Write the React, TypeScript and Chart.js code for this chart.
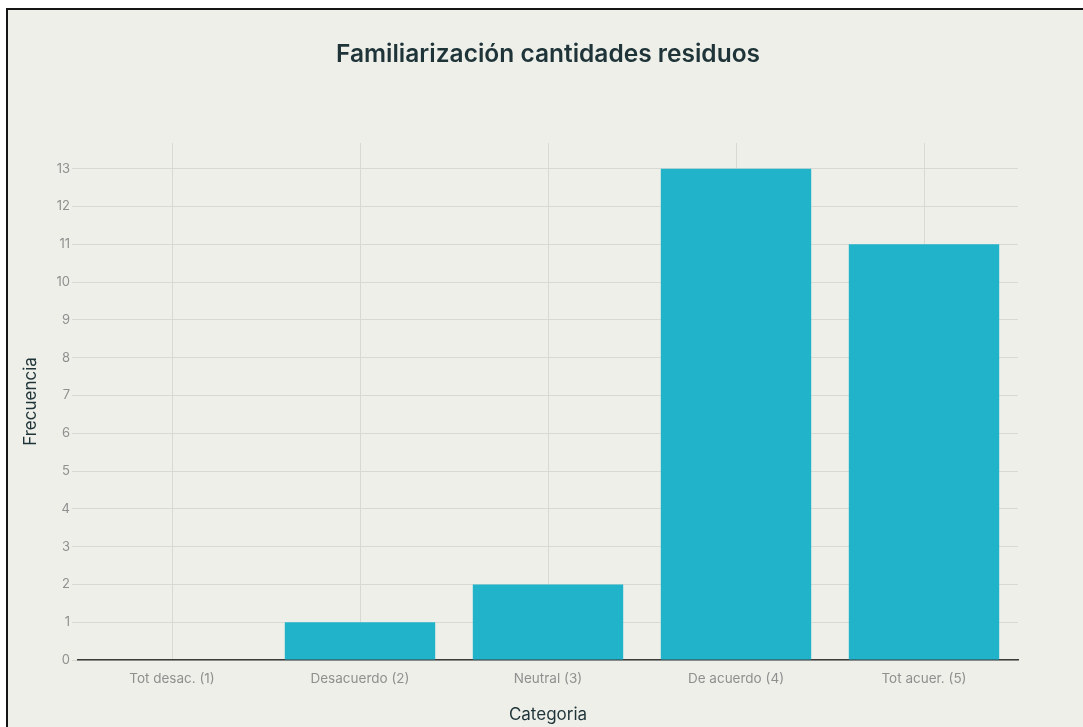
import { useEffect, useRef } from 'react';
import { Chart, registerables } from 'chart.js';

Chart.register(...registerables);

// Survey answers and how often each was given
const categories = ['Tot desac. (1)', 'Desacuerdo (2)', 'Neutral (3)', 'De acuerdo (4)', 'Tot acuer. (5)'];
const frecuencias = [0, 1, 2, 13, 11];
const yTicks = [0, 1, 2, 3, 4, 5, 6, 7, 8, 9, 10, 11, 12, 13];
const yMax = 13.68;

const chartTitle = 'Familiarización cantidades residuos';
const xTitle = 'Categoria';
const yTitle = 'Frecuencia';

const BG = '#efefea';
const BAR = '#20b3c9';
const GRID = '#d9d9d4';
const TICK_COLOR = '#8f8f8f';
const TEXT_DARK = '#1f3438';

const W = 1075;
const H = 717;

export default function App() {
  const canvasRef = useRef<HTMLCanvasElement | null>(null);

  useEffect(() => {
    const canvas = canvasRef.current;
    if (!canvas) return;

    const bgPlugin = {
      id: 'bgFill',
      beforeDraw(chart: Chart) {
        const ctx = chart.ctx;
        ctx.save();
        ctx.fillStyle = BG;
        ctx.fillRect(0, 0, chart.width, chart.height);
        ctx.restore();
      },
    };

    // Title centred over the plotting area
    const plotTitle = {
      id: 'plotTitle',
      afterDraw(chart: Chart) {
        const { ctx, chartArea } = chart;
        ctx.save();
        ctx.fillStyle = TEXT_DARK;
        ctx.font = '600 24.5px Inter';
        ctx.textAlign = 'center';
        ctx.textBaseline = 'middle';
        ctx.fillText(chartTitle, (chartArea.left + chartArea.right) / 2, 45);
        ctx.restore();
      },
    };

    const chart = new Chart(canvas, {
      type: 'bar',
      data: {
        labels: categories,
        datasets: [
          {
            label: yTitle,
            data: frecuencias,
            backgroundColor: BAR,
            borderWidth: 0,
            categoryPercentage: 0.8,
            barPercentage: 1.0,
          },
        ],
      },
      options: {
        responsive: false,
        animation: false,
        devicePixelRatio: 1,
        layout: { padding: { left: 0, right: 65, top: 133, bottom: 0 } },
        plugins: {
          legend: { display: false },
          tooltip: { enabled: false },
          title: { display: false },
        },
        scales: {
          x: {
            offset: true,
            grid: {
              offset: false,
              color: GRID,
              lineWidth: 1,
              drawTicks: false,
            },
            border: { display: true, color: '#3a3a3a', width: 1.5 },
            ticks: {
              color: TICK_COLOR,
              padding: 11,
              font: { family: 'Inter', size: 13.5 },
              maxRotation: 0,
            },
            title: {
              display: true,
              text: xTitle,
              color: TEXT_DARK,
              font: { family: 'Inter', size: 17, lineHeight: 1.2 },
              padding: { top: 0, bottom: 2 },
            },
            afterFit(scale: any) {
              scale.height = 67;
            },
          },
          y: {
            min: 0,
            max: yMax,
            grid: {
              color: GRID,
              lineWidth: 1,
              drawTicks: true,
              tickLength: 6,
            },
            border: { display: false },
            ticks: {
              color: TICK_COLOR,
              padding: 2,
              font: { family: 'Inter', size: 13 },
            },
            afterBuildTicks(scale: any) {
              scale.ticks = yTicks.map((v) => ({ value: v }));
            },
            title: {
              display: true,
              text: yTitle,
              color: TEXT_DARK,
              font: { family: 'Inter', size: 17, lineHeight: 1.2 },
              padding: { top: 13, bottom: 0 },
            },
            afterFit(scale: any) {
              scale.width = 70;
            },
          },
        },
      },
      plugins: [bgPlugin, plotTitle],
    });

    return () => chart.destroy();
  }, []);

  return (
    <div
      style={{
        position: 'absolute',
        left: 6,
        top: 8,
        width: W,
        height: H,
        borderLeft: '2px solid #151515',
        borderTop: '2px solid #151515',
        background: BG,
      }}
    >
      <canvas ref={canvasRef} width={W} height={H} style={{ display: 'block' }} />
    </div>
  );
}
